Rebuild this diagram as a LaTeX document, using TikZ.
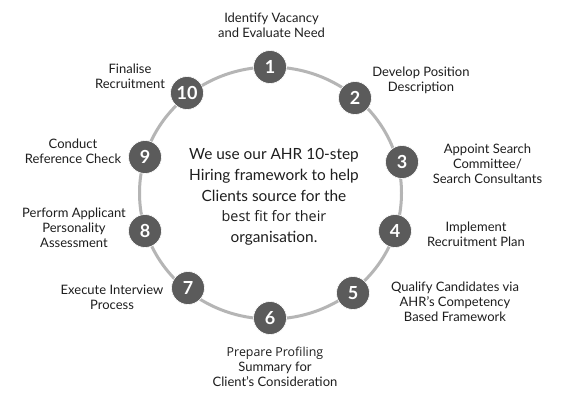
\documentclass[tikz,border=0pt]{standalone}
\usepackage{fontspec}
\setmainfont{Lato}
\newfontfamily\altfont{Open Sans}
\definecolor{ringgray}{HTML}{B5B5B5}
\definecolor{dotgray}{HTML}{5B5B5B}
\definecolor{txt}{HTML}{1E1E1E}
\begin{document}
\begin{tikzpicture}[x=1pt,y=-1pt,
  stepdot/.style={circle,fill=dotgray,draw=white,line width=0.6pt,minimum size=33pt,inner sep=0pt,text=white,font=\fontsize{18}{18}\selectfont\bfseries},
  lbl/.style={align=center,text=txt,inner sep=0pt,font=\fontsize{13}{15}\selectfont},
  ctr/.style={align=center,text=txt,inner sep=0pt,font=\fontsize{15.4}{20.8}\selectfont}]
\useasboundingbox (0,0) rectangle (573,400);
\fill[white] (0,0) rectangle (573,400);
\coordinate (c) at (270.5,193);
\draw[ringgray,line width=3pt] (c) ellipse [x radius=131, y radius=126];
\node[stepdot] (n1) at (270,67) {1};
\node[stepdot] (n2) at (355,98) {2};
\node[stepdot] (n3) at (402,162) {3};
\node[stepdot] (n4) at (395,231) {4};
\node[stepdot] (n5) at (353,293) {5};
\node[stepdot] (n6) at (270,318) {6};
\node[stepdot] (n7) at (188,288) {7};
\node[stepdot] (n8) at (145,231) {8};
\node[stepdot] (n9) at (145,157) {9};
\node[stepdot] (n10) at (187,93) {10};
\node[lbl] (l1) at (271.5,25.5) {Identify Vacancy\\and Evaluate Need};
\node[lbl] (l2) at (421,80.5) {Develop Position\\Description};
\node[lbl] (l3) at (487.5,164) {Appoint Search\\Committee/\\Search Consultants};
\node[lbl] (l4) at (476,234.5) {Implement\\Recruitment Plan};
\node[lbl] (l5) at (455,302) {Qualify Candidates via\\AHR’s Competency\\Based Framework};
\node[lbl] (l6) at (275,367) {{\altfont\fontsize{12.4}{15}\selectfont Prepare Profiling}\\Summary for\\Client’s Consideration};
\node[lbl] (l7) at (112,297.5) {Execute Interview\\Process};
\node[lbl] (l8) at (74,228) {Perform Applicant\\Personality\\Assessment};
\node[lbl] (l9) at (73,151) {Conduct\\Reference Check};
\node[lbl] (l10) at (130,76) {Finalise\\Recruitment};
\node[ctr] (mid) at (274,197) {We use our AHR 10-step\\Hiring framework to help\\Clients source for the\\{\altfont\fontsize{14.4}{20.8}\selectfont best fit for their}\\organisation.};
\end{tikzpicture}
\end{document}
